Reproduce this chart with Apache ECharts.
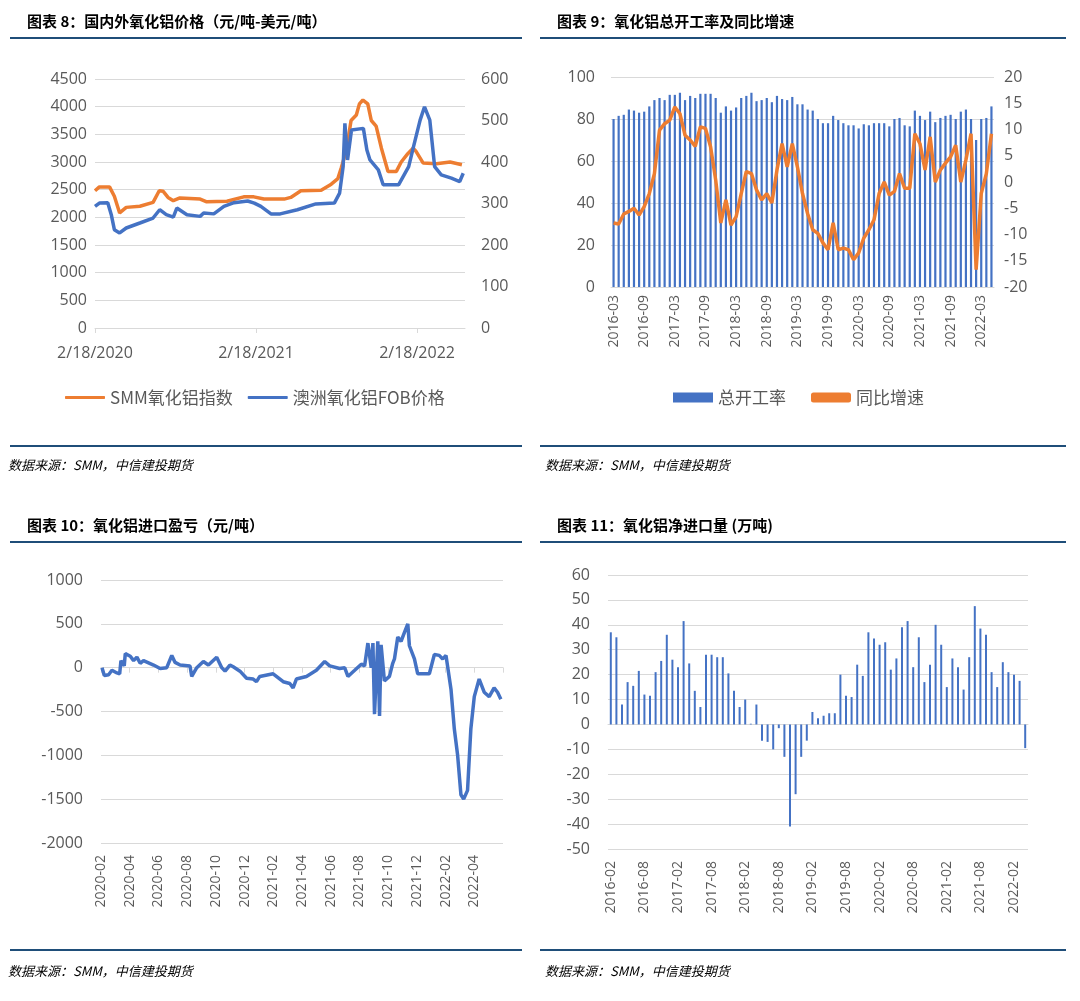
<!DOCTYPE html>
<html>
<head>
<meta charset="utf-8">
<script src="https://cdn.jsdelivr.net/npm/echarts@6/dist/echarts.min.js"></script>
<style>
body{margin:0;background:#fff;}
#main{width:1080px;height:1001px;}
</style>
</head>
<body>
<div id="main"></div>
<script>
// ---------- 图表8 国内外氧化铝价格 ----------
var smmDates = ['2020-02-18','2020-02-28','2020-03-22','2020-04-02','2020-04-14','2020-04-29','2020-05-30','2020-06-29','2020-07-13','2020-07-22','2020-08-02','2020-08-14','2020-08-29','2020-10-14','2020-10-29','2020-12-14','2021-01-21','2021-02-13','2021-03-08','2021-04-23','2021-05-08','2021-05-31','2021-07-16','2021-08-08','2021-08-23','2021-08-31','2021-09-11','2021-09-22','2021-10-04','2021-10-11','2021-10-19','2021-10-30','2021-11-07','2021-11-18','2021-11-30','2021-12-15','2022-01-03','2022-01-14','2022-01-29','2022-02-10','2022-02-16','2022-03-05','2022-04-04','2022-05-05','2022-06-01'];
var smmIndex = [2480,2550,2550,2380,2080,2180,2200,2270,2480,2470,2360,2300,2350,2330,2280,2290,2370,2370,2330,2330,2360,2480,2490,2600,2700,2900,3200,3750,3850,4050,4120,4050,3750,3650,3250,2830,2830,3000,3150,3250,3200,2980,2970,3000,2950];
var fobDates = ['2020-02-18','2020-02-28','2020-03-18','2020-03-26','2020-04-02','2020-04-14','2020-04-29','2020-05-30','2020-06-29','2020-07-14','2020-07-29','2020-08-14','2020-08-22','2020-09-14','2020-10-14','2020-10-22','2020-11-14','2020-12-07','2020-12-30','2021-01-30','2021-02-14','2021-03-01','2021-03-24','2021-04-14','2021-05-23','2021-07-04','2021-08-15','2021-08-27','2021-09-04','2021-09-08','2021-09-14','2021-09-23','2021-10-20','2021-10-28','2021-11-04','2021-11-23','2021-12-04','2022-01-08','2022-01-31','2022-02-11','2022-02-26','2022-03-08','2022-03-20','2022-03-31','2022-04-15','2022-05-08','2022-05-27','2022-06-04'];
var fobPrice = [293,301,302,273,237,229,241,253,265,285,273,267,289,273,269,277,275,293,302,306,301,293,275,275,285,299,301,325,389,493,405,477,481,429,405,381,345,345,389,437,501,533,501,389,369,361,353,373];
var c8Ticks = ['2020-02-18','2021-02-18','2022-02-18'];
var c8TickLabels = ['2/18/2020','2/18/2021','2/18/2022'];

// ---------- 图表9 总开工率及同比增速 ----------
var c9Start = [2016, 3], c9Count = 75;
var runRate = [80,81.5,82,84.5,84,83,83.5,86,89,90,89,91.5,91.5,92.5,89,91,90,92,92,92,90,83,86,84,85.5,90,91,92.5,88.5,89,90,88,91,89.5,89,90.5,87,87,84.5,84,80,78,78,81.5,79.5,78,77,77,75.5,77.5,77,78,78,78,76.5,80,80.5,77,76.5,84,81.5,79.5,83.5,78.5,80.5,81.5,82,80,83.5,84.5,80,70,80,80.5,86];
var yoyGrowth = [-7.8,-8,-6.1,-5.6,-5,-6.3,-4.7,-2.2,1.6,9.9,11.1,11.8,14.3,13,8.9,8,6.8,10.5,10.2,6.7,0.4,-7.8,-3.4,-8.2,-6.6,-2.2,2,1.6,-1.5,-3.4,-2.2,-4,2.3,7.3,2.9,7.3,2.9,-2.2,-6,-9.1,-9.8,-11.6,-12.9,-7.8,-12.9,-12.6,-12.9,-14.8,-13.5,-10.7,-9.1,-7.2,-2.2,0,-2.5,-1.8,1.6,-1.2,-1.2,9.2,7.3,2.3,8.6,0,2.3,3.6,4.8,7,0,4.2,9.2,-16.7,-2.2,1.6,9.2];

// ---------- 图表10 进口盈亏 (x: 自2020-02起的月数) ----------
var c10Month = [0.07,0.23,0.53,0.76,1.11,1.30,1.39,1.62,1.69,2.04,2.27,2.50,2.73,2.96,3.66,4.12,4.58,4.93,5.16,5.51,6.20,6.32,6.67,7.13,7.48,8.06,8.41,8.64,8.98,9.21,9.68,10.14,10.60,10.83,11.06,11.99,12.69,13.15,13.38,13.61,14.31,15.00,15.58,15.93,16.62,16.97,17.20,17.67,18.13,18.36,18.59,18.82,18.94,19.05,19.28,19.40,19.51,19.74,20.09,20.32,20.44,20.67,20.90,21.13,21.37,21.48,21.83,22.06,22.87,23.22,23.56,23.80,24.03,24.38,24.61,24.84,25.07,25.26,25.53,25.76,26.00,26.34,26.69,27.04,27.38,27.62,27.85];
var c10Value = [0,-90,-80,-30,-60,-70,80,20,160,130,80,120,50,80,30,-10,0,140,60,30,20,-100,0,70,30,120,0,-40,30,10,-40,-120,-130,-160,-100,-70,-160,-180,-230,-130,-100,-30,70,20,-10,0,-100,-30,40,20,280,0,280,-530,300,-550,260,-150,-100,50,100,350,300,400,500,250,100,-70,-70,150,140,100,140,-250,-700,-1000,-1450,-1500,-1400,-700,-330,-130,-280,-330,-230,-280,-360];
var c10TickLabels = ['2020-02','2020-04','2020-06','2020-08','2020-10','2020-12','2021-02','2021-04','2021-06','2021-08','2021-10','2021-12','2022-02','2022-04'];

// ---------- 图表11 净进口量 ----------
var c11Start = [2016, 2], c11Count = 75;
var netImport = [37,35,8,17,15.5,21.5,12,11.5,21,25.5,36,26,23,41.5,24.5,13.5,7,28,28,27,27,20.5,13.5,7,10,0.3,8,-6.5,-7,-10,-1.5,-13,-41,-28,-13,-6.5,5,2.5,3.5,4.5,4.5,20,11.5,11,24,19.5,37,34.5,32,33,22,26.5,39,41.5,23,35,17,24,40,32,15,26.5,23,14,27,47.5,38.5,36,21,15,25,21,20,17.5,-9.5];

function months(start, n) {
    var out = [], y = start[0], m = start[1];
    for (var i = 0; i < n; i++) {
        out.push(y + '-' + (m < 10 ? '0' + m : m));
        m++; if (m > 12) { m = 1; y++; }
    }
    return out;
}
var c9Cats = months(c9Start, c9Count);
var c11Cats = months(c11Start, c11Count);

function pairs(xs, ys, fx) {
    return xs.map(function (x, i) { return [fx ? fx(x) : x, ys[i]]; });
}
function ts(d) { return new Date(d + 'T00:00:00Z').getTime(); }
function plain(v) { return String(v); }

var BLUE = '#4472C4', ORANGE = '#ED7D31', NAVY = '#1F4E79';
var axisLbl = { color: '#595959', fontSize: 15, fontFamily: 'Open Sans', formatter: plain };
var split = { show: true, lineStyle: { color: '#D9D9D9' } };
var c8Min = ts(c8Ticks[0]), c8Step = ts(c8Ticks[1]) - ts(c8Ticks[0]);

var titleStyle = { fontSize: 15, fontWeight: 'bold', color: '#000', fontFamily: 'Noto Sans CJK SC' };
var srcStyle = { fontSize: 13, fontStyle: 'italic', fontWeight: 'normal', color: '#000', fontFamily: 'Noto Sans CJK SC' };

function hline(x1, x2, y, w) {
    return { type: 'line', shape: { x1: x1, y1: y, x2: x2, y2: y }, style: { stroke: NAVY, lineWidth: w } };
}

var myChart = echarts.init(document.getElementById('main'));
myChart.setOption({
    animation: false,
    title: [
        { text: '图表 8：国内外氧化铝价格（元/吨-美元/吨）', left: 22, top: 9, textStyle: titleStyle },
        { text: '图表 9：氧化铝总开工率及同比增速', left: 552, top: 9, textStyle: titleStyle },
        { text: '图表 10：氧化铝进口盈亏（元/吨）', left: 22, top: 513, textStyle: titleStyle },
        { text: '图表 11：氧化铝净进口量 (万吨)', left: 552, top: 513, textStyle: titleStyle },
        { text: '数据来源：SMM，中信建投期货', left: 3, top: 454, textStyle: srcStyle },
        { text: '数据来源：SMM，中信建投期货', left: 540, top: 454, textStyle: srcStyle },
        { text: '数据来源：SMM，中信建投期货', left: 3, top: 960, textStyle: srcStyle },
        { text: '数据来源：SMM，中信建投期货', left: 540, top: 960, textStyle: srcStyle }
    ],
    graphic: [
        hline(10, 522, 38, 2), hline(540, 1066, 38, 2),
        hline(10, 522, 446, 2), hline(540, 1066, 446, 2),
        hline(10, 522, 542, 2), hline(540, 1066, 542, 2),
        hline(10, 522, 950, 2), hline(540, 1066, 950, 2)
    ],
    legend: [
        { data: ['SMM氧化铝指数', '澳洲氧化铝FOB价格'], left: 60, top: 384, itemWidth: 40, itemHeight: 3, itemGap: 15,
          icon: 'roundRect', textStyle: { fontSize: 17, color: '#595959', fontFamily: 'Noto Sans CJK SC' } },
        { data: [{ name: '总开工率', icon: 'rect' }, { name: '同比增速', icon: 'roundRect' }], left: 668, top: 384,
          itemWidth: 40, itemHeight: 10, itemGap: 25, textStyle: { fontSize: 17, color: '#595959', fontFamily: 'Noto Sans CJK SC' } }
    ],
    grid: [
        { left: 95, top: 79, width: 370, height: 249 },
        { left: 611, top: 77, width: 383, height: 210 },
        { left: 101, top: 580, width: 402, height: 263 },
        { left: 608, top: 575, width: 420, height: 274 }
    ],
    xAxis: [
        { gridIndex: 0, type: 'value', min: c8Min, max: ts('2022-06-08'), interval: c8Step,
          axisLine: { lineStyle: { color: '#D9D9D9' } }, axisTick: { show: true, length: 5, lineStyle: { color: '#D9D9D9' } },
          splitLine: { show: false },
          axisLabel: Object.assign({}, axisLbl, { fontSize: 16, margin: 17, showMaxLabel: false,
              formatter: function (v) { var i = Math.round((v - c8Min) / c8Step); return c8TickLabels[i] || ''; } }) },
        { gridIndex: 1, type: 'category', data: c9Cats,
          axisLine: { lineStyle: { color: '#D9D9D9' } }, axisTick: { interval: 5, length: 5, lineStyle: { color: '#D9D9D9' } },
          axisLabel: Object.assign({}, axisLbl, { interval: 5, rotate: 90, fontSize: 14, formatter: null }) },
        { gridIndex: 2, type: 'value', min: 0, max: 28, interval: 2,
          axisLine: { onZero: true, lineStyle: { color: '#D9D9D9' } }, axisTick: { length: 5, lineStyle: { color: '#D9D9D9' } },
          splitLine: { show: false }, axisLabel: { show: false } },
        { gridIndex: 2, type: 'value', min: 0, max: 28, interval: 2, position: 'bottom',
          axisLine: { onZero: false, show: false }, axisTick: { show: false }, splitLine: { show: false },
          axisLabel: Object.assign({}, axisLbl, { rotate: 90, fontSize: 14, margin: 12,
              formatter: function (v) { return c10TickLabels[Math.round(v / 2)] || ''; } }) },
        { gridIndex: 3, type: 'category', data: c11Cats,
          axisLine: { onZero: true, lineStyle: { color: '#D9D9D9' } }, axisTick: { interval: 5, length: 5, lineStyle: { color: '#D9D9D9' } },
          axisLabel: { show: false } },
        { gridIndex: 3, type: 'category', data: c11Cats, position: 'bottom',
          axisLine: { onZero: false, show: false }, axisTick: { show: false },
          axisLabel: Object.assign({}, axisLbl, { interval: 5, rotate: 90, fontSize: 14, margin: 12, formatter: null }) }
    ],
    yAxis: [
        { gridIndex: 0, type: 'value', min: 0, max: 4500, interval: 500, axisLine: { show: false }, axisTick: { show: false },
          splitLine: split, axisLabel: Object.assign({}, axisLbl, { fontSize: 16 }) },
        { gridIndex: 0, type: 'value', min: 0, max: 600, interval: 100, axisLine: { show: false }, axisTick: { show: false },
          splitLine: { show: false }, axisLabel: Object.assign({}, axisLbl, { fontSize: 16, margin: 16 }) },
        { gridIndex: 1, type: 'value', min: 0, max: 100, interval: 20, axisLine: { show: false }, axisTick: { show: false },
          splitLine: split, axisLabel: Object.assign({}, axisLbl, { fontSize: 16, margin: 16 }) },
        { gridIndex: 1, type: 'value', min: -20, max: 20, interval: 5, axisLine: { show: false }, axisTick: { show: false },
          splitLine: { show: false }, axisLabel: Object.assign({}, axisLbl, { fontSize: 16, margin: 10 }) },
        { gridIndex: 2, type: 'value', min: -2000, max: 1000, interval: 500, axisLine: { show: false }, axisTick: { show: false },
          splitLine: split, axisLabel: Object.assign({}, axisLbl, { fontSize: 16, margin: 18 }) },
        { gridIndex: 3, type: 'value', min: -50, max: 60, interval: 10, axisLine: { show: false }, axisTick: { show: false },
          splitLine: split, axisLabel: Object.assign({}, axisLbl, { fontSize: 16, margin: 18 }) }
    ],
    series: [
        { name: 'SMM氧化铝指数', type: 'line', xAxisIndex: 0, yAxisIndex: 0, showSymbol: false,
          data: pairs(smmDates, smmIndex, ts), lineStyle: { color: ORANGE, width: 3.5 }, itemStyle: { color: ORANGE } },
        { name: '澳洲氧化铝FOB价格', type: 'line', xAxisIndex: 0, yAxisIndex: 1, showSymbol: false,
          data: pairs(fobDates, fobPrice, ts), lineStyle: { color: BLUE, width: 3.5 }, itemStyle: { color: BLUE } },
        { name: '总开工率', type: 'bar', xAxisIndex: 1, yAxisIndex: 2, data: runRate, barWidth: 2.2,
          itemStyle: { color: BLUE } },
        { name: '同比增速', type: 'line', xAxisIndex: 1, yAxisIndex: 3, data: yoyGrowth, showSymbol: false,
          lineStyle: { color: ORANGE, width: 3.5 }, itemStyle: { color: ORANGE } },
        { name: '进口盈亏', type: 'line', xAxisIndex: 2, yAxisIndex: 4, showSymbol: false,
          data: pairs(c10Month, c10Value), lineStyle: { color: BLUE, width: 3.5 }, itemStyle: { color: BLUE } },
        { name: '净进口量', type: 'bar', xAxisIndex: 4, yAxisIndex: 5, data: netImport, barWidth: 2,
          itemStyle: { color: BLUE } }
    ]
});
</script>
</body>
</html>
